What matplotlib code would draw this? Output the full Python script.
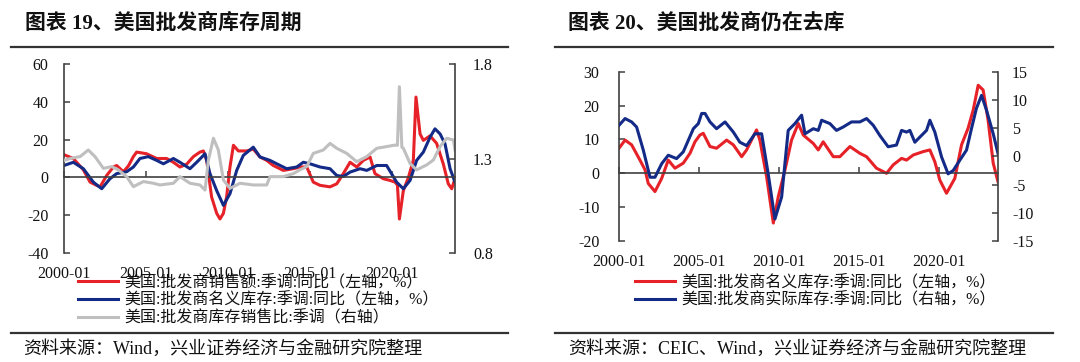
import matplotlib
matplotlib.use("Agg")
import matplotlib.pyplot as plt
from matplotlib.lines import Line2D

plt.rcParams['font.family'] = ['Liberation Serif', 'Noto Sans CJK SC']
plt.rcParams['axes.unicode_minus'] = False

# ---------------- data: chart 19 ----------------
sales_t = [2000.00, 2000.57, 2001.18, 2001.59, 2001.99, 2002.20, 2002.60, 2003.01, 2003.21, 2003.62,
           2003.92, 2004.23, 2004.43, 2005.04, 2005.65, 2006.26, 2006.67, 2007.07, 2007.48, 2007.89,
           2008.29, 2008.50, 2008.70, 2009.00, 2009.31, 2009.51, 2009.72, 2009.92, 2010.12, 2010.33,
           2010.63, 2011.14, 2011.54, 2011.95, 2012.36, 2012.76, 2013.37, 2013.98, 2014.39, 2014.80,
           2015.20, 2015.61, 2016.22, 2016.63, 2017.03, 2017.44, 2017.85, 2018.25, 2018.66, 2018.96,
           2019.47, 2019.88, 2020.18, 2020.33, 2020.45, 2020.69, 2021.00, 2021.30, 2021.46, 2021.71,
           2021.91, 2022.32, 2022.72, 2023.13, 2023.43, 2023.64, 2023.84]
sales_v = [12, 10, 4, -2.5, -4.2, -5, 1, 5.5, 6.3, 3,
           6, 11, 13.4, 12.5, 10, 10, 8, 5.5, 7, 11,
           13.4, 14, 9, -10.4, -19, -22, -19, -10, 5.5, 17,
           14, 14, 15, 10.8, 9, 6.3, 3.7, 4.6, 5.5, 5.5,
           -2.5, -4.2, -5, -3.4, 2, 8, 5.5, 9, 10.8, 2,
           -0.7, -1.6, -2.5, -4, -22, -7, 0, 9, 42.5, 23,
           19.6, 22, 18, 7, -3.4, -6, -0.7]

inv_t = [2000.00, 2000.57, 2001.18, 2001.79, 2002.30, 2002.80, 2003.21, 2003.82, 2004.23, 2004.63,
         2005.14, 2005.65, 2006.06, 2006.67, 2007.07, 2007.68, 2008.09, 2008.60, 2008.90, 2009.31,
         2009.72, 2010.12, 2010.53, 2010.93, 2011.54, 2011.95, 2012.56, 2012.97, 2013.58, 2014.19,
         2014.59, 2015.00, 2015.61, 2016.22, 2016.63, 2017.03, 2017.44, 2018.05, 2018.46, 2019.07,
         2019.67, 2020.28, 2020.69, 2021.10, 2021.50, 2021.91, 2022.32, 2022.62, 2022.93, 2023.23,
         2023.54, 2023.84]
inv_v = [6.3, 8, 4.6, -2.5, -6, -0.7, 2, 3, 5.5, 10,
         11, 9, 7.2, 10, 8, 4.6, 8, 12.5, 2, -7,
         -14.8, -8.6, 3.7, 11.6, 16, 10.8, 9, 7.2, 4.6, 5.5,
         8, 7.2, 5.5, 4.6, 1, 0.5, 2.8, 4.6, 3.7, 6.3,
         6.3, -2.5, -6, -1.6, 9, 13.4, 21.3, 25.7, 23, 17.8,
         4.6, -2.5]

ratio_t = [2000.00, 2000.37, 2000.98, 2001.48, 2001.89, 2002.40, 2002.91, 2003.31, 2003.82, 2004.23,
           2004.84, 2005.45, 2005.85, 2006.67, 2007.07, 2007.68, 2008.29, 2008.60, 2008.80, 2009.11,
           2009.41, 2009.72, 2010.12, 2010.73, 2011.54, 2012.36, 2012.56, 2013.37, 2013.98, 2014.39,
           2014.80, 2015.20, 2015.81, 2016.22, 2016.63, 2017.24, 2017.85, 2018.46, 2019.07, 2019.67,
           2020.18, 2020.33, 2020.45, 2020.60, 2020.69, 2021.10, 2021.50, 2022.11, 2022.52, 2022.93,
           2023.33, 2023.74, 2023.84]
ratio_v = [1.29, 1.30, 1.31, 1.345, 1.31, 1.248, 1.257, 1.24, 1.204, 1.151,
           1.178, 1.169, 1.16, 1.169, 1.204, 1.169, 1.16, 1.133, 1.29, 1.407,
           1.345, 1.186, 1.142, 1.169, 1.16, 1.16, 1.204, 1.204, 1.22, 1.24,
           1.257, 1.327, 1.345, 1.38, 1.354, 1.327, 1.283, 1.31, 1.354, 1.363,
           1.371, 1.37, 1.68, 1.36, 1.354, 1.274, 1.24, 1.266, 1.292, 1.363,
           1.407, 1.398, 1.345]

# ---------------- data: chart 20 ----------------
nominal_t = [2000.00, 2000.38, 2000.79, 2001.31, 2001.63, 2001.83, 2002.25, 2002.67, 2003.08, 2003.50,
             2004.02, 2004.44, 2004.75, 2005.06, 2005.27, 2005.69, 2006.10, 2006.73, 2007.15, 2007.67,
             2007.98, 2008.60, 2008.81, 2009.23, 2009.65, 2009.96, 2010.38, 2010.79, 2011.21, 2011.52,
             2012.15, 2012.46, 2012.77, 2013.40, 2013.81, 2014.44, 2015.06, 2015.48, 2016.10, 2016.73,
             2017.15, 2017.67, 2017.98, 2018.40, 2019.02, 2019.44, 2019.75, 2020.06, 2020.48, 2021.00,
             2021.42, 2021.83, 2022.15, 2022.46, 2022.77, 2023.08, 2023.40, 2023.70]
nominal_v = [7.4, 9.8, 8.4, 3.9, 1, -3, -5.4, -1.5, 3.9, 1.5,
             3, 5.9, 9.3, 11.3, 11.8, 7.9, 7.4, 9.8, 8.4, 4.9,
             6.9, 12.8, 9.8, -1, -14.7, -6.9, 1, 9.8, 14.7, 11.3,
             8.8, 6.9, 9.3, 4.9, 4.9, 7.9, 5.9, 4.9, 1.5, 0,
             2.5, 4.4, 3.9, 5.4, 6.4, 6.9, 3.4, -2, -5.9, -1.5,
             8.4, 13.3, 18.7, 26, 24.6, 15.7, 3, -2.5]

real_t = [2000.00, 2000.38, 2000.79, 2001.10, 2001.52, 2001.94, 2002.25, 2002.67, 2003.08, 2003.60,
          2004.02, 2004.65, 2004.96, 2005.17, 2005.38, 2005.69, 2006.10, 2006.63, 2007.15, 2007.56,
          2007.98, 2008.50, 2008.92, 2009.33, 2009.75, 2010.17, 2010.58, 2011.00, 2011.42, 2011.63,
          2012.15, 2012.46, 2012.67, 2013.19, 2013.60, 2014.02, 2014.54, 2015.06, 2015.48, 2015.90,
          2016.31, 2016.83, 2017.35, 2017.67, 2017.98, 2018.19, 2018.50, 2018.81, 2019.23, 2019.44,
          2019.75, 2020.17, 2020.58, 2020.90, 2021.31, 2021.73, 2022.04, 2022.35, 2022.67, 2022.98,
          2023.40, 2023.70]
real_v = [5.5, 6.7, 6.1, 5.2, 1.1, -3.7, -3.7, -1.3, 0.2, -0.4,
          0.8, 4.9, 5.8, 7.6, 7.6, 6.1, 4.9, 6.1, 4.3, 2.5,
          1.9, 4.0, 4.0, -3.1, -11.1, -7.2, 4.6, 5.8, 7.3, 4.0,
          4.9, 4.6, 6.4, 5.8, 4.6, 5.2, 6.1, 6.1, 6.7, 5.5,
          3.7, 1.7, 2.0, 4.6, 4.3, 4.6, 2.5, 3.4, 4.6, 6.4,
          4.3, -0.1, -3.1, -2.5, -0.7, 1.1, 4.9, 8.5, 10.8, 8.2,
          4.0, 0.5]

year_ticks = [2000, 2005, 2010, 2015, 2020]
year_labels = ['2000-01', '2005-01', '2010-01', '2015-01', '2020-01']

RED = '#E62128'
BLUE = '#142A87'
GRAY = '#BFBFBF'
AX = '#404040'
TXT = '#111111'

W, H = 1080, 362
fig = plt.figure(figsize=(W / 100, H / 100), dpi=100)


def box(x0, y0, x1, y1):
    return [x0 / W, 1 - y1 / H, (x1 - x0) / W, (y1 - y0) / H]


def style_axes(ax, ax2, xmax, lpad, rpad):
    for a in (ax, ax2):
        a.set_facecolor('none')
        a.spines['top'].set_visible(False)
    ax2.spines['bottom'].set_visible(False)
    ax.spines['right'].set_visible(False)
    ax2.spines['left'].set_visible(False)
    ax.spines['bottom'].set_position(('data', 0))
    for s in ('left', 'bottom'):
        ax.spines[s].set_color(AX)
        ax.spines[s].set_linewidth(1.2)
    ax2.spines['right'].set_color(AX)
    ax2.spines['right'].set_linewidth(1.2)
    ax.set_xlim(2000, xmax)
    ax.set_xticks(year_ticks)
    ax.tick_params(axis='x', direction='in', length=4, width=1.1, color=AX, labelbottom=False)
    ax.tick_params(axis='y', direction='in', length=4, width=1.1, color=AX, pad=lpad,
                   labelsize=11.5, labelcolor=TXT)
    ax2.tick_params(axis='y', direction='in', length=4, width=1.1, color=AX, pad=rpad,
                    labelsize=11.5, labelcolor=TXT)
    sec = ax.secondary_xaxis(0)
    sec.set_xticks(year_ticks, year_labels)
    sec.spines['bottom'].set_visible(False)
    sec.tick_params(length=0, pad=9, labelsize=11.5, labelcolor=TXT)


# ---------------- chart 19 ----------------
ax = fig.add_axes(box(64, 64, 455, 253))
ax2 = ax.twinx()
l1, = ax.plot(sales_t, sales_v, color=RED, lw=2.2, solid_joinstyle='round')
l2, = ax.plot(inv_t, inv_v, color=BLUE, lw=2.2, solid_joinstyle='round')
l3, = ax2.plot(ratio_t, ratio_v, color=GRAY, lw=2.2, solid_joinstyle='round')
ax.set_ylim(-40, 60)
ax.set_yticks([-40, -20, 0, 20, 40, 60])
ax2.set_ylim(0.8, 1.8)
ax2.set_yticks([0.8, 1.3, 1.8])
ax2.set_yticklabels(['0.8', '1.3', '1.8'])
style_axes(ax, ax2, 2023.84, 11, 13)

fig.legend([l1, l2, l3],
           ['美国:批发商销售额:季调:同比（左轴，%）',
            '美国:批发商名义库存:季调:同比（左轴，%）',
            '美国:批发商库存销售比:季调（右轴）'],
           loc='upper left', bbox_to_anchor=(78 / W, 1 - 275 / H), frameon=False,
           borderpad=0, borderaxespad=0, handlelength=2.5, handletextpad=0.4,
           labelspacing=0.1, fontsize=11.5, labelcolor=TXT)

# ---------------- chart 20 ----------------
bx = fig.add_axes(box(619, 71.7, 998, 241))
bx2 = bx.twinx()
m1, = bx.plot(nominal_t, nominal_v, color=RED, lw=2.2, solid_joinstyle='round')
m2, = bx2.plot(real_t, real_v, color=BLUE, lw=2.2, solid_joinstyle='round')
bx.set_ylim(-20, 30)
bx.set_yticks([-20, -10, 0, 10, 20, 30])
bx2.set_ylim(-15, 15)
bx2.set_yticks([-15, -10, -5, 0, 5, 10, 15])
style_axes(bx, bx2, 2023.7, 14, 10)

fig.legend([m1, m2],
           ['美国:批发商名义库存:季调:同比（左轴，%）',
            '美国:批发商实际库存:季调:同比（右轴，%）'],
           loc='upper left', bbox_to_anchor=(635 / W, 1 - 275 / H), frameon=False,
           borderpad=0, borderaxespad=0, handlelength=2.5, handletextpad=0.4,
           labelspacing=0.1, fontsize=11.5, labelcolor=TXT)

# ---------------- titles, rules, sources ----------------
fig.text(25 / W, 1 - 24 / H, '图表 19、美国批发商库存周期', fontsize=15, fontweight='bold',
         va='center', ha='left', color=TXT)
fig.text(568 / W, 1 - 24 / H, '图表 20、美国批发商仍在去库', fontsize=15, fontweight='bold',
         va='center', ha='left', color=TXT)
for (x0, x1) in [(11, 508), (555, 1053)]:
    for yy in (47, 333):
        fig.add_artist(Line2D([x0 / W, x1 / W], [1 - yy / H, 1 - yy / H],
                              color='#333333', lw=1.6))
fig.text(23 / W, 1 - 349 / H, '资料来源：Wind，兴业证券经济与金融研究院整理', fontsize=13,
         va='center', ha='left', color=TXT)
fig.text(568 / W, 1 - 349 / H, '资料来源：CEIC、Wind，兴业证券经济与金融研究院整理', fontsize=13,
         va='center', ha='left', color=TXT)

fig.savefig('out.png', dpi=100)
